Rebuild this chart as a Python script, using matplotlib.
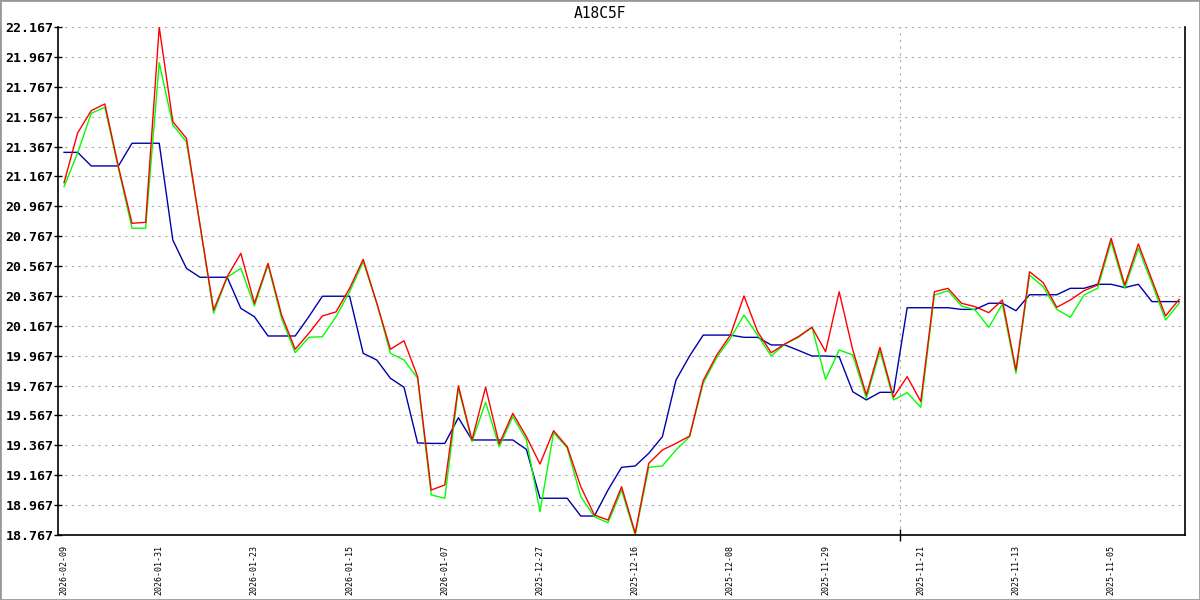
import matplotlib
matplotlib.use("Agg")
import matplotlib.pyplot as plt
from matplotlib.patches import Rectangle

# values, newest date first
date_labels = ["2026-02-09", "2026-01-31", "2026-01-23", "2026-01-15",
               "2026-01-07", "2025-12-27", "2025-12-16", "2025-12-08",
               "2025-11-29", "2025-11-21", "2025-11-13", "2025-11-05"]
label_step = 7

red = [21.125, 21.458, 21.607, 21.652, 21.232, 20.853, 20.860, 22.167, 21.533, 21.422,
       20.842, 20.273, 20.496, 20.652, 20.318, 20.585, 20.239, 20.010, 20.117, 20.233,
       20.260, 20.418, 20.612, 20.318, 20.010, 20.067, 19.827, 19.068, 19.102, 19.766,
       19.403, 19.756, 19.376, 19.581, 19.425, 19.242, 19.465, 19.358, 19.090, 18.901,
       18.867, 19.090, 18.780, 19.247, 19.336, 19.380, 19.429, 19.800, 19.972, 20.105,
       20.367, 20.128, 19.987, 20.045, 20.095, 20.157, 19.994, 20.395, 20.005, 19.704,
       20.023, 19.689, 19.827, 19.660, 20.395, 20.418, 20.318, 20.295, 20.255, 20.340,
       19.871, 20.529, 20.456, 20.291, 20.340, 20.402, 20.440, 20.753, 20.440, 20.715,
       20.474, 20.233, 20.344]

green = [21.098, 21.324, 21.589, 21.630, 21.220, 20.820, 20.820, 21.928, 21.511, 21.399,
         20.840, 20.251, 20.492, 20.552, 20.300, 20.574, 20.217, 19.987, 20.090, 20.094,
         20.228, 20.395, 20.596, 20.318, 19.983, 19.938, 19.816, 19.035, 19.013, 19.749,
         19.392, 19.655, 19.358, 19.559, 19.403, 18.923, 19.452, 19.350, 19.024, 18.889,
         18.849, 19.068, 18.767, 19.220, 19.229, 19.336, 19.425, 19.782, 19.956, 20.083,
         20.239, 20.105, 19.965, 20.045, 20.090, 20.157, 19.809, 20.005, 19.972, 19.682,
         20.000, 19.671, 19.720, 19.622, 20.373, 20.402, 20.300, 20.273, 20.157, 20.313,
         19.849, 20.507, 20.429, 20.277, 20.224, 20.373, 20.418, 20.730, 20.418, 20.686,
         20.450, 20.206, 20.318]

blue = [21.328, 21.328, 21.237, 21.237, 21.237, 21.389, 21.389, 21.389, 20.741, 20.552,
        20.492, 20.492, 20.492, 20.284, 20.228, 20.099, 20.099, 20.099, 20.228, 20.365,
        20.365, 20.365, 19.983, 19.938, 19.816, 19.756, 19.383, 19.380, 19.380, 19.552,
        19.403, 19.403, 19.403, 19.403, 19.340, 19.013, 19.013, 19.013, 18.894, 18.894,
        19.068, 19.220, 19.229, 19.314, 19.425, 19.804, 19.965, 20.105, 20.105, 20.105,
        20.090, 20.090, 20.039, 20.039, 20.003, 19.965, 19.965, 19.960, 19.726, 19.671,
        19.722, 19.722, 20.288, 20.288, 20.288, 20.288, 20.277, 20.277, 20.318, 20.318,
        20.268, 20.375, 20.375, 20.375, 20.418, 20.418, 20.445, 20.445, 20.423, 20.445,
        20.329, 20.329, 20.329]

y_min = 18.767
y_max = 22.167
y_step = 0.2
marker_pos = 61.5  # the lone vertical grid line / tick

x = list(range(len(red)))

fig = plt.figure(figsize=(12, 6), dpi=100)
ax = fig.add_axes([57.5 / 1200, 1 - 535 / 600, (1185 - 57.5) / 1200, (535 - 27) / 600])

ax.plot(x, blue, color="#0000aa", lw=1.0)
ax.plot(x, green, color="#00ff00", lw=1.0)
ax.plot(x, red, color="#ff0000", lw=1.0)

ax.set_xlim(-0.48, 82.43)
ax.set_ylim(y_min, y_max)

yt = [y_min + k * y_step for k in range(18)]
ax.set_yticks(yt)
ax.set_yticklabels(["%.3f" % v for v in yt], family="DejaVu Sans Mono",
                   fontweight="bold", fontsize=9.5)
ax.tick_params(axis="y", direction="inout", length=6, width=1, pad=0)

ax.set_xticks([i * label_step for i in range(len(date_labels))])
ax.set_xticklabels(date_labels, rotation=90, family="DejaVu Sans Mono",
                   fontsize=6, va="top")
ax.tick_params(axis="x", which="major", length=0, pad=7)
ax.set_xticks([marker_pos], minor=True)
ax.tick_params(axis="x", which="minor", direction="inout", length=8, width=1)

for v in yt[1:]:
    ax.axhline(v, color="#aaaaaa", lw=0.8, ls=(0, (2, 4)), zorder=0)
ax.axvline(marker_pos, color="#aaaaaa", lw=0.8, ls=(0, (2, 4)), zorder=0)

ax.spines["top"].set_visible(False)
for s in ["left", "bottom", "right"]:
    ax.spines[s].set_color("black")
    ax.spines[s].set_linewidth(1.2)

fig.text(0.5, 1 - 13 / 600, "A18C5F", ha="center", va="center",
         family="DejaVu Sans Mono", fontsize=10.5)

fig.patches.append(Rectangle((0, 0), 1, 1, transform=fig.transFigure,
                             fill=False, edgecolor="#999999", lw=2))

fig.savefig("out.png", dpi=100)
